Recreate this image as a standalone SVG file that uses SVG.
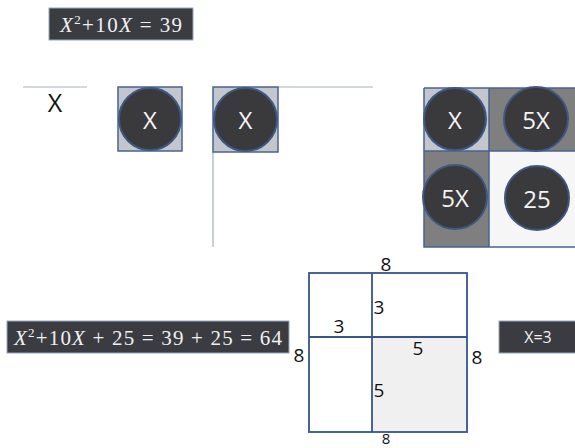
<svg xmlns="http://www.w3.org/2000/svg" width="575" height="448" viewBox="0 0 575 448">
<style>
.eqbox{fill:#3a3c42;stroke:#9aa6bc;stroke-width:1}
.eq{font-family:"Liberation Serif","DejaVu Serif",serif;font-size:21px;fill:#f0f0f0}
.it{font-style:italic}
.circ{fill:#3a3a3c;stroke:#3e5882;stroke-width:2}
.ct{font-family:"Open Sans","Liberation Sans",sans-serif;font-size:24px;fill:#f4f4f4;text-anchor:middle;dominant-baseline:central}
.sq{stroke:#4a6392;stroke-width:1.5}
.thin{stroke:#a6b0c2;stroke-width:1.2;fill:none}
.grid{fill:none;stroke:#36558a;stroke-width:1.8}
.lbl{font-family:"Open Sans","Liberation Sans",sans-serif;font-size:19px;fill:#111;text-anchor:middle;dominant-baseline:central}
</style>
<rect width="575" height="448" fill="#ffffff"/>

<g id="eq1">
<rect class="eqbox" x="49" y="8" width="144" height="32"/>
<text class="eq" x="60" y="32" textLength="122" lengthAdjust="spacing"><tspan class="it">X</tspan><tspan font-size="13" dy="-8">2</tspan><tspan dy="8">+10</tspan><tspan class="it">X</tspan> = 39</text>
</g>

<g id="x-line">
<line class="thin" x1="23" y1="87" x2="87" y2="87"/>
<text x="55" y="112" font-family="Open Sans,Liberation Sans,sans-serif" font-size="25" fill="#111" text-anchor="middle">X</text>
</g>

<g id="square1">
<rect class="sq" x="118" y="87" width="64" height="64" fill="#c3c6cd"/>
<circle class="circ" cx="150" cy="119" r="31"/>
<text class="ct" x="150" y="119">X</text>
</g>

<g id="square2">
<line class="thin" x1="278" y1="87" x2="373" y2="87"/>
<line class="thin" x1="213" y1="152" x2="213" y2="247"/>
<rect class="sq" x="213" y="87" width="65" height="65" fill="#c3c6cd"/>
<circle class="circ" cx="245.5" cy="119.5" r="31.5"/>
<text class="ct" x="245.5" y="119.5">X</text>
</g>

<g id="grid-square">
<rect x="424" y="88" width="65" height="63" fill="#c3c6cd"/>
<rect x="489" y="88" width="90" height="63" fill="#7f7f7f"/>
<rect x="424" y="151" width="65" height="96" fill="#7f7f7f"/>
<rect x="489" y="151" width="90" height="96" fill="#f6f6f6"/>
<path d="M424 88H579M424 151H579M424 88V247H579M489 88V247" fill="none" stroke="#4a6392" stroke-width="1.5"/>
<circle class="circ" cx="455" cy="119" r="31"/>
<text class="ct" x="455" y="119">X</text>
<circle class="circ" cx="536" cy="119" r="32"/>
<text class="ct" x="536" y="119">5X</text>
<circle class="circ" cx="455" cy="197" r="32"/>
<text class="ct" x="455" y="197">5X</text>
<circle class="circ" cx="537" cy="198" r="32"/>
<text class="ct" x="537" y="198">25</text>
</g>

<g id="eq2">
<rect class="eqbox" x="7" y="321" width="282" height="32"/>
<text class="eq" x="14" y="345" textLength="268" lengthAdjust="spacing"><tspan class="it">X</tspan><tspan font-size="13" dy="-8">2</tspan><tspan dy="8">+10</tspan><tspan class="it">X</tspan> + 25 = 39 + 25 = 64</text>
</g>

<g id="square8">
<rect x="372" y="337" width="95" height="95" fill="#f0f0f0"/>
<rect class="grid" x="309" y="273" width="158" height="159"/>
<line class="grid" x1="372" y1="273" x2="372" y2="432"/>
<line class="grid" x1="309" y1="337" x2="467" y2="337"/>
<text class="lbl" x="386" y="264">8</text>
<text class="lbl" x="379" y="307">3</text>
<text class="lbl" x="339" y="326">3</text>
<text class="lbl" x="418" y="348">5</text>
<text class="lbl" x="379" y="390">5</text>
<text class="lbl" x="299" y="355">8</text>
<text class="lbl" x="477" y="357">8</text>
<text x="386" y="444" font-family="Open Sans,Liberation Sans,sans-serif" font-size="15" fill="#111" text-anchor="middle">8</text>
</g>

<g id="answer">
<rect class="eqbox" x="499" y="321" width="80" height="32"/>
<text x="538" y="337" font-family="Open Sans,Liberation Sans,sans-serif" font-size="16" fill="#f0f0f0" text-anchor="middle" dominant-baseline="central">X=3</text>
</g>
</svg>
